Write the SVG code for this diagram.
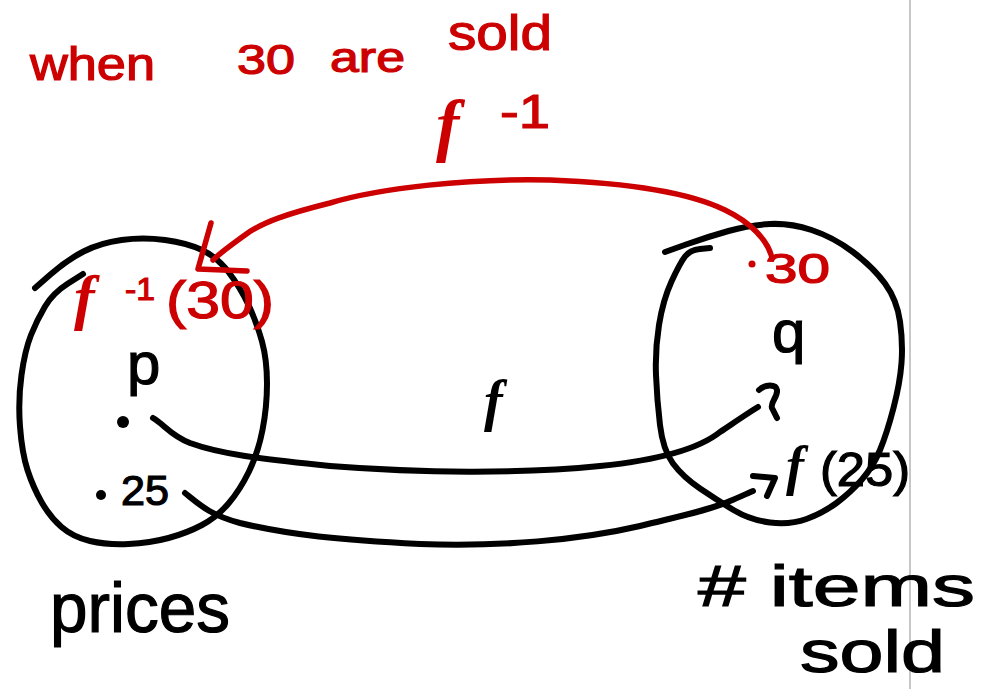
<svg xmlns="http://www.w3.org/2000/svg" width="992" height="689" viewBox="0 0 992 689">
<style>
.bk{fill:none;stroke:#000;stroke-width:6;stroke-linecap:round;stroke-linejoin:round}
.rd{fill:none;stroke:#cc0000;stroke-width:5.5;stroke-linecap:round;stroke-linejoin:round}
.tb{font-family:"Liberation Sans",Arial,sans-serif;fill:#000;stroke:#000;stroke-width:1.2}
.tr{font-family:"Liberation Sans",Arial,sans-serif;fill:#cc0000;stroke:#cc0000;stroke-width:1.2}
.fb{font-family:"Liberation Serif","Times New Roman",serif;font-style:italic;font-weight:bold;fill:#000}
.fr{font-family:"Liberation Serif","Times New Roman",serif;font-style:italic;font-weight:bold;fill:#cc0000}
</style>
<rect width="992" height="689" fill="#fff"/>
<line x1="910" y1="0" x2="910" y2="689" stroke="#b4b4b4" stroke-width="1.5"/>

<g id="title">
<text class="tr" x="30" y="80" font-size="46" textLength="125" lengthAdjust="spacingAndGlyphs">when</text>
<text class="tr" x="237" y="74" font-size="42" textLength="58" lengthAdjust="spacingAndGlyphs">30</text>
<text class="tr" x="330" y="72" font-size="42" textLength="75" lengthAdjust="spacingAndGlyphs">are</text>
<text class="tr" x="448" y="50" font-size="50" textLength="104" lengthAdjust="spacingAndGlyphs">sold</text>
</g>

<g id="prices-set">
<path class="bk" d="M35,288 L51,274 Q67,260 83.5,251.5 Q100,243 121.5,240 Q143,237 165,240 Q187,243 202,250 Q217,257 228.5,272 Q240,287 248.5,305 Q257,323 262,341.5 Q267,360 267,383.5 Q267,407 262.5,430 Q258,453 249,471.5 Q240,490 228.5,503.5 Q217,517 202,525 Q187,533 168.5,538 Q150,543 128.5,544 Q107,545 90,541 Q73,537 61.5,527 Q50,517 41.5,502 Q33,487 27.5,470 Q22,453 20,426.5 Q18,400 21.5,375 Q25,350 31,335 Q37,320 45,306.5 Q53,293 68,283.5 L83,274"/>
<text class="tb" x="127" y="384" font-size="60">p</text>
<circle cx="123" cy="422" r="6" fill="#000"/>
<circle cx="101" cy="495" r="5" fill="#000"/>
<text class="tb" x="121" y="505" font-size="42" textLength="48" lengthAdjust="spacingAndGlyphs">25</text>
<text class="fr" x="74" y="318" font-size="62">f</text>
<text class="tr" x="125" y="300" font-size="32" textLength="30" lengthAdjust="spacingAndGlyphs">-1</text>
<text class="tr" x="166" y="318" font-size="52" textLength="108" lengthAdjust="spacingAndGlyphs">(30)</text>
<text class="tb" x="50" y="632" font-size="70" textLength="180" lengthAdjust="spacingAndGlyphs">prices</text>
</g>

<g id="items-set">
<path class="bk" d="M665,252 L686,244.5 Q707,237 728.5,231 Q750,225 770,224 Q790,223 811.5,230 Q833,237 853,252 Q873,267 885,283.5 Q897,300 900,321.5 Q903,343 901.5,363 Q900,383 893.5,408 Q887,433 880,450 Q873,467 861.5,480 Q850,493 836.5,503 Q823,513 806.5,519 Q790,525 770,522.5 Q750,520 733.5,510 Q717,500 700,488.5 Q683,477 673,463.5 Q663,450 660,425 Q657,400 656,375 Q655,350 659,325 Q663,300 671.5,281.5 Q680,263 685,256.5 Q690,250 700,249 L710,248"/>
<circle cx="752" cy="264" r="3.5" fill="#cc0000"/>
<text class="tr" x="765" y="283" font-size="42" textLength="65" lengthAdjust="spacingAndGlyphs">30</text>
<text class="tb" x="772" y="352" font-size="60">q</text>
<text class="fb" x="786" y="484" font-size="54">f</text>
<text class="tb" x="820" y="486" font-size="48" textLength="90" lengthAdjust="spacingAndGlyphs">(25)</text>
<text class="tb" x="698" y="606" font-size="58" textLength="277" lengthAdjust="spacingAndGlyphs"># items</text>
<text class="tb" x="800" y="672" font-size="60" textLength="145" lengthAdjust="spacingAndGlyphs">sold</text>
</g>

<g id="f-label">
<text class="fb" x="484" y="420" font-size="56">f</text>
</g>

<g id="finv-label">
<text class="fr" x="436" y="148" font-size="70">f</text>
<text class="tr" x="500" y="128" font-size="48" textLength="50" lengthAdjust="spacingAndGlyphs">-1</text>
</g>

<g id="connectors">
<path class="bk" d="M153,418 C165,425 170,435 190,443 C220,454 260,459 330,466 C420,473 520,474 600,466 C660,460 700,448 720,432 C735,422 748,413 758,407"/>
<path class="bk" d="M759,390 C765,384 776,384 777,390 C778,397 770,402 772,408 L777,418"/>
<path class="bk" d="M185,493 C200,505 210,515 240,523 C290,535 340,540 420,544 C500,547 580,540 640,526 C680,516 710,510 730,501 C740,497 748,493 753,491"/>
<path class="bk" d="M753,476 L775,478 L767,496"/>
<path class="rd" d="M772,258 C768,240 750,222 725,210 C690,193 630,183 550,180 C470,178 380,188 330,203 C290,213 262,222 245,235 C230,246 220,253 213,260"/>
<path class="rd" d="M211,223 L198,269 L247,271"/>
</g>
</svg>
